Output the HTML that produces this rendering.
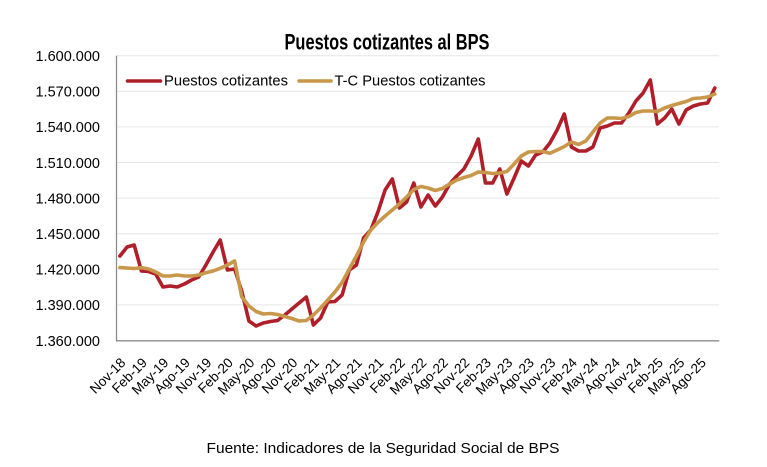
<!DOCTYPE html>
<html>
<head>
<meta charset="utf-8">
<style>
html,body{margin:0;padding:0;background:#fff;}
svg{display:block;}
text{font-family:"Liberation Sans",sans-serif;fill:#000;}
</style>
</head>
<body>
<svg width="767" height="467" viewBox="0 0 767 467" xmlns="http://www.w3.org/2000/svg">
<rect width="767" height="467" fill="#fff"/>
<text x="387" y="49.5" font-size="22" font-weight="bold" text-anchor="middle" textLength="205" lengthAdjust="spacingAndGlyphs">Puestos cotizantes al BPS</text>
<g stroke="#e6e6e6" stroke-width="1">
<line x1="116.5" y1="55.7" x2="719" y2="55.7"/>
<line x1="116.5" y1="91.3" x2="719" y2="91.3"/>
<line x1="116.5" y1="126.9" x2="719" y2="126.9"/>
<line x1="116.5" y1="162.5" x2="719" y2="162.5"/>
<line x1="116.5" y1="198.1" x2="719" y2="198.1"/>
<line x1="116.5" y1="233.7" x2="719" y2="233.7"/>
<line x1="116.5" y1="269.3" x2="719" y2="269.3"/>
<line x1="116.5" y1="304.9" x2="719" y2="304.9"/>
</g>
<g stroke="#8c8c8c" stroke-width="1.3">
<line x1="116.5" y1="55.7" x2="116.5" y2="340.8"/>
<line x1="116" y1="340.8" x2="719.3" y2="340.8"/>
</g>
<g font-size="14.5" text-anchor="end">
<text x="100" y="61">1.600.000</text>
<text x="100" y="96.6">1.570.000</text>
<text x="100" y="132.2">1.540.000</text>
<text x="100" y="167.8">1.510.000</text>
<text x="100" y="203.4">1.480.000</text>
<text x="100" y="239">1.450.000</text>
<text x="100" y="274.6">1.420.000</text>
<text x="100" y="310.2">1.390.000</text>
<text x="100" y="345.8">1.360.000</text>
</g>
<polyline fill="none" stroke="#B01E2A" stroke-width="3.6" stroke-linejoin="round" stroke-linecap="round" points="119.9,256 127.1,247 134.2,245 141.4,271 148.6,271.5 155.7,274 162.9,287 170.1,286 177.2,287 184.4,284 191.6,280 198.7,277 205.9,265 213.1,252 220.2,240 227.4,270 234.6,269 241.7,291 248.9,321 256.1,326 263.2,323 270.4,321.5 277.6,320.5 284.8,315 291.9,309 299.1,303 306.3,297 313.4,325 320.6,318 327.8,302 334.9,301.5 342.1,295 349.3,270 356.4,265 363.6,238 370.8,230 377.9,212 385.1,190 392.3,179 399.4,208 406.6,202 413.8,183 420.9,207 428.1,195 435.3,206 442.4,197 449.6,184 456.8,176 463.9,169 471.1,156 478.3,139 485.4,183 492.6,183 499.8,169 506.9,194 514.1,178 521.3,161 528.4,166 535.6,155 542.8,152 549.9,143 557.1,130 564.3,114 571.4,147 578.6,151 585.8,151 592.9,147 600.1,128 607.3,126 614.4,123 621.6,123 628.8,113 635.9,101 643.1,93 650.3,80 657.4,124 664.6,118 671.8,109 678.9,124 686.1,110 693.3,106 700.4,104 707.6,103 714.8,88"/>
<polyline fill="none" stroke="#C9974A" stroke-width="3.6" stroke-linejoin="round" stroke-linecap="round" points="119.9,267.5 127.1,268 134.2,268.5 141.4,267.7 148.6,269 155.7,272 162.9,276 170.1,276 177.2,275 184.4,276 191.6,276 198.7,275 205.9,272.7 213.1,271 220.2,268.3 227.4,265 234.6,261 241.7,296.7 248.9,306 256.1,311.5 263.2,314 270.4,313.5 277.6,314.5 284.8,316.5 291.9,318.5 299.1,321 306.3,320.5 313.4,315 320.6,308 327.8,300 334.9,292 342.1,282.5 349.3,269 356.4,256 363.6,242 370.8,230 377.9,222.5 385.1,216 392.3,210 399.4,204 406.6,197 413.8,189.5 420.9,186.5 428.1,188 435.3,190.5 442.4,188.5 449.6,184 456.8,180 463.9,177.5 471.1,175.5 478.3,172 485.4,172.5 492.6,173.5 499.8,173 506.9,171.5 514.1,164 521.3,156 528.4,152 535.6,151.5 542.8,151.5 549.9,153.3 557.1,150 564.3,146.5 571.4,142 578.6,144.5 585.8,141 592.9,132 600.1,123 607.3,118 614.4,118 621.6,118.5 628.8,116.5 635.9,112.5 643.1,111 650.3,111 657.4,111.5 664.6,108 671.8,105.5 678.9,103.5 686.1,101.5 693.3,98.5 700.4,98 707.6,97 714.8,94"/>
<line x1="127.5" y1="81" x2="160.5" y2="81" stroke="#B01E2A" stroke-width="3.6" stroke-linecap="round"/>
<text x="164" y="85.7" font-size="15" textLength="124" lengthAdjust="spacingAndGlyphs">Puestos cotizantes</text>
<line x1="299" y1="81" x2="331" y2="81" stroke="#C9974A" stroke-width="3.6" stroke-linecap="round"/>
<text x="334.5" y="85.7" font-size="15" textLength="151" lengthAdjust="spacingAndGlyphs">T-C Puestos cotizantes</text>
<g font-size="13.6" text-anchor="end">
<text transform="translate(126.4,363.5) rotate(-45)">Nov-18</text>
<text transform="translate(147.9,363.5) rotate(-45)">Feb-19</text>
<text transform="translate(169.4,363.5) rotate(-45)">May-19</text>
<text transform="translate(190.9,363.5) rotate(-45)">Ago-19</text>
<text transform="translate(212.4,363.5) rotate(-45)">Nov-19</text>
<text transform="translate(233.9,363.5) rotate(-45)">Feb-20</text>
<text transform="translate(255.4,363.5) rotate(-45)">May-20</text>
<text transform="translate(276.9,363.5) rotate(-45)">Ago-20</text>
<text transform="translate(298.4,363.5) rotate(-45)">Nov-20</text>
<text transform="translate(319.9,363.5) rotate(-45)">Feb-21</text>
<text transform="translate(341.4,363.5) rotate(-45)">May-21</text>
<text transform="translate(362.9,363.5) rotate(-45)">Ago-21</text>
<text transform="translate(384.4,363.5) rotate(-45)">Nov-21</text>
<text transform="translate(405.9,363.5) rotate(-45)">Feb-22</text>
<text transform="translate(427.4,363.5) rotate(-45)">May-22</text>
<text transform="translate(448.9,363.5) rotate(-45)">Ago-22</text>
<text transform="translate(470.4,363.5) rotate(-45)">Nov-22</text>
<text transform="translate(491.9,363.5) rotate(-45)">Feb-23</text>
<text transform="translate(513.4,363.5) rotate(-45)">May-23</text>
<text transform="translate(534.9,363.5) rotate(-45)">Ago-23</text>
<text transform="translate(556.4,363.5) rotate(-45)">Nov-23</text>
<text transform="translate(577.9,363.5) rotate(-45)">Feb-24</text>
<text transform="translate(599.4,363.5) rotate(-45)">May-24</text>
<text transform="translate(620.9,363.5) rotate(-45)">Ago-24</text>
<text transform="translate(642.4,363.5) rotate(-45)">Nov-24</text>
<text transform="translate(663.9,363.5) rotate(-45)">Feb-25</text>
<text transform="translate(685.4,363.5) rotate(-45)">May-25</text>
<text transform="translate(706.9,363.5) rotate(-45)">Ago-25</text>
</g>
<text x="206.5" y="453" font-size="15" textLength="353" lengthAdjust="spacingAndGlyphs">Fuente: Indicadores de la Seguridad Social de BPS</text>
</svg>
</body>
</html>
